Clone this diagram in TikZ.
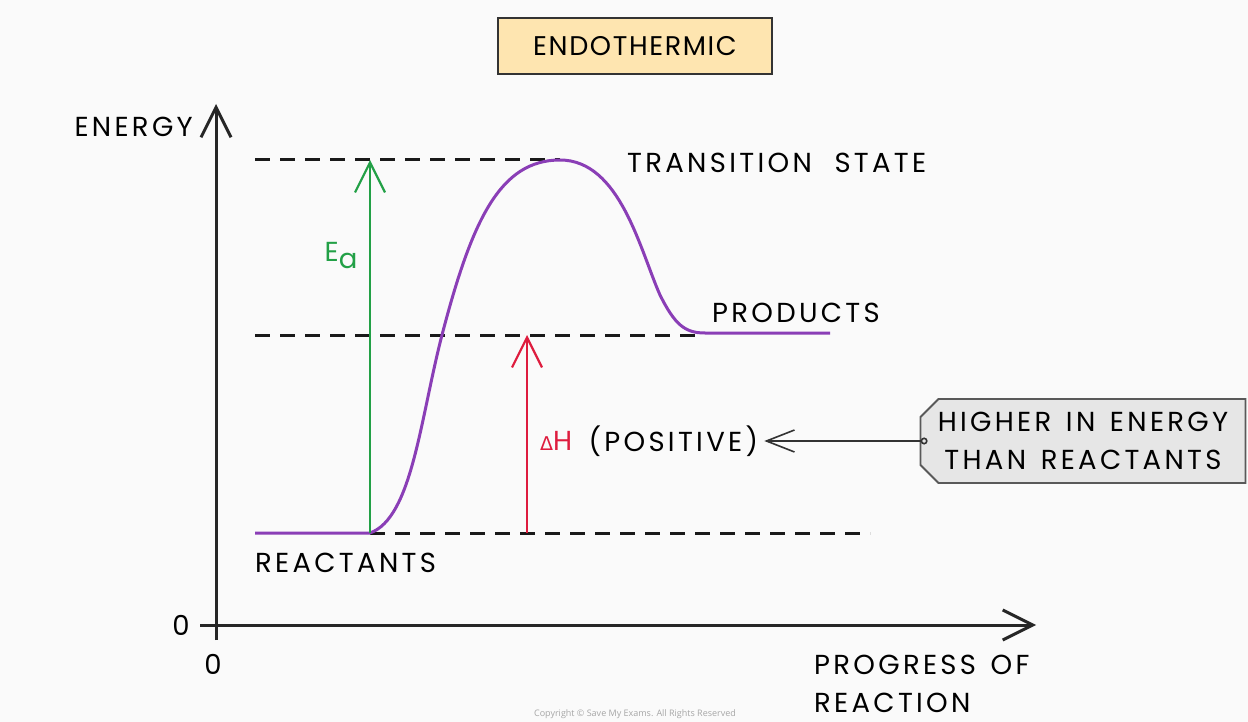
\documentclass[tikz,border=0pt]{standalone}
\usepackage{fontspec}
\setmainfont{Poppins}[LetterSpace=12]
\newfontfamily\titlefont{Poppins}[LetterSpace=6]
\newfontfamily\symfont{DejaVu Sans}
\newfontfamily\copyfont{Open Sans}
\usetikzlibrary{positioning,arrows.meta,shapes.misc}

\definecolor{bgcol}{RGB}{250,250,250}
\definecolor{titlefill}{RGB}{254,229,176}
\definecolor{notefill}{RGB}{230,230,230}
\definecolor{curvecol}{RGB}{138,62,182}
\definecolor{eacol}{RGB}{34,160,70}
\definecolor{dhcol}{RGB}{222,28,62}

\begin{document}
\begin{tikzpicture}[
        x=1pt, y=-1pt,
        font=\fontsize{27.5}{38}\selectfont,
        >={Straight Barb[length=30pt,width=30pt]},
        lbl/.style={inner sep=0pt, anchor=west},
        titlebox/.style={
                draw=black!80, line width=1.8pt, fill=titlefill,
                minimum width=274pt, minimum height=56pt,
                font=\titlefont\fontsize{27}{38}\selectfont
            },
        note/.style={
                draw=black!65, line width=1.8pt, fill=notefill,
                chamfered rectangle,
                chamfered rectangle corners={north west,south west},
                chamfered rectangle xsep=9pt, chamfered rectangle ysep=9pt,
                minimum width=325pt, minimum height=84pt,
                align=center, inner sep=4pt
            },
        axis/.style={->, line width=3pt, black!85},
        guide/.style={dash pattern=on 15pt off 10pt, line width=3pt, black!90},
        eaarr/.style={->, line width=2.2pt, eacol},
        dharr/.style={->, line width=2.2pt, dhcol},
        pointer/.style={{Circle[open,length=7pt,width=7pt]}-{Straight Barb[length=28pt,width=22pt]}, line width=1.6pt, black!80},
        curve/.style={line width=3pt, curvecol},
    ]

    \fill[bgcol] (0,0) rectangle (1248,722);
    \useasboundingbox (0,0) rectangle (1248,722);

    \node[titlebox] (title) at (635,46) {ENDOTHERMIC};

    % axes
    \coordinate (yfoot) at (216,640);
    \coordinate (ytop) at (216,104);
    \coordinate (xfoot) at (200,625);
    \coordinate (xend) at (1036,625);
    \draw[axis] (yfoot) -- (ytop);
    \draw[axis] (xfoot) -- (xend);

    \node[lbl, anchor=east] (energy) at (193,127) {ENERGY};
    \node[lbl, anchor=center] (zeroy) at (181,625) {0};
    \node[lbl, anchor=center] (zerox) at (213,664) {0};
    \node[lbl, align=left, anchor=north west] (progress) at (814,655) {PROGRESS\hspace{4pt} OF\\REACTION};

    % levels
    \coordinate (reac0) at (255,533);
    \coordinate (reac1) at (370,533);
    \coordinate (peak) at (560,160);
    \coordinate (prod0) at (705,333);
    \coordinate (prod1) at (830,333);

    \coordinate (tsleft) at (255,160);
    \coordinate (prleft) at (255,335);
    \coordinate (prright) at (700,335);
    \coordinate (reright) at (870,533);
    \coordinate (eatop) at (370,160);
    \coordinate (dhfoot) at (527,533);
    \coordinate (dhtop) at (527,335);

    \draw[guide] (tsleft) -- (peak);
    \draw[guide] (prleft) -- (prright);
    \draw[guide] (reac1) -- (reright);

    \draw[curve] (reac0) -- (reac1)
        .. controls (412,518) and (420,420) .. (442,335)
        .. controls (472,220) and (500,160) .. (peak)
        .. controls (620,160) and (640,250) .. (660,295)
        .. controls (675,325) and (685,333) .. (prod0) -- (prod1);

    \draw[eaarr] (reac1) -- (eatop);
    \draw[dharr] (dhfoot) -- (dhtop);

    \node[lbl, text=eacol, anchor=center] (ea) at (341,256) {E\raisebox{-7pt}{a}};
    \node[lbl] (dh) at (540,441) {\textcolor{dhcol}{{\symfont\fontsize{19}{19}\selectfont Δ}H}};
    \node[lbl, right=16pt of dh] (pos) {(POSITIVE)};

    \node[lbl] (ts) at (627,163) {TRANSITION\hspace{12pt} STATE};
    \node[lbl] (products) at (712,313) {PRODUCTS};
    \node[lbl] (reactants) at (255,563) {REACTANTS};

    \node[note] (higher) at (1083,441) {HIGHER\hspace{4pt} IN\hspace{4pt} ENERGY\\THAN\hspace{4pt} REACTANTS};
    \draw[pointer] ([xshift=8pt]higher.west) -- ([xshift=6pt]pos.east);

    \node[text=black!35, font=\copyfont\fontsize{9}{9}\selectfont] (copy) at (635,714) {Copyright © Save My Exams. All Rights Reserved};
\end{tikzpicture}
\end{document}
